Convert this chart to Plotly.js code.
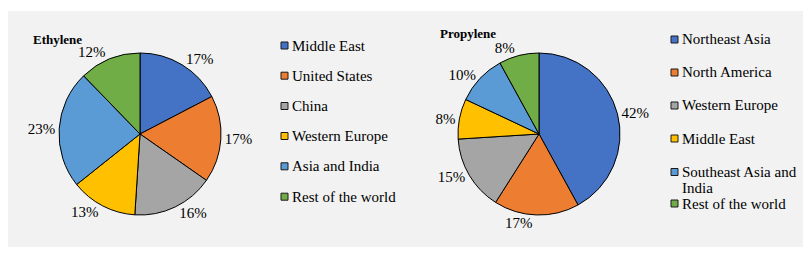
<!DOCTYPE html>
<html>
<head>
<meta charset="utf-8">
<script src="https://cdn.plot.ly/plotly-3.0.1.min.js"></script>
<style>html,body{margin:0;padding:0;background:#fff;}#chart{width:811px;height:254px;}</style>
</head>
<body>
<div id="chart"></div>
<script>
// ---- data ----
var ethyleneLabels = ["Middle East", "United States", "China", "Western Europe", "Asia and India", "Rest of the world"];
var ethyleneValues = [17, 17, 16, 13, 23, 12];
var propyleneLabels = ["Northeast Asia", "North America", "Western Europe", "Middle East", "Southeast Asia and<br>India", "Rest of the world"];
var propyleneValues = [42, 17, 15, 8, 10, 8];
var sliceColors = ["#4472C4", "#ED7D31", "#A5A5A5", "#FFC000", "#5B9BD5", "#70AD47"];

// ---- layout helpers ----
var W = 811, H = 254;
function px(x) { return x / W; }
function py(y) { return 1 - y / H; }
var FONT = "Liberation Serif, Times New Roman, serif";

function pieTrace(labels, values, cx, cy, r) {
  return {
    type: "pie",
    labels: labels,
    values: values,
    sort: false,
    direction: "clockwise",
    rotation: 0,
    textposition: "outside",
    texttemplate: "%{value}%",
    textfont: {family: FONT, size: 15, color: "#000"},
    marker: {colors: sliceColors, line: {color: "#000", width: 1}},
    domain: {x: [px(cx - r), px(cx + r)], y: [py(cy + r), py(cy - r)]},
    showlegend: false,
    hoverinfo: "label+value"
  };
}

var data = [
  pieTrace(ethyleneLabels, ethyleneValues, 140, 134, 81),
  pieTrace(propyleneLabels, propyleneValues, 539, 134, 81)
];

var shapes = [{
  type: "rect", xref: "paper", yref: "paper", layer: "below",
  x0: px(8), x1: px(803), y0: py(247), y1: py(11),
  fillcolor: "#F2F2F2", line: {width: 0}
}];
var annotations = [
  {text: "<b>Ethylene</b>", x: px(31), y: py(40), xanchor: "left", yanchor: "middle"},
  {text: "<b>Propylene</b>", x: px(438), y: py(34), xanchor: "left", yanchor: "middle"}
].map(function (a) {
  a.xref = "paper"; a.yref = "paper"; a.showarrow = false;
  a.font = {family: FONT, size: 13, color: "#000"};
  return a;
});

function addLegend(labels, sqX, txtX, rows) {
  labels.forEach(function (lab, i) {
    var y = rows[i];
    shapes.push({
      type: "rect", xref: "paper", yref: "paper",
      x0: px(sqX), x1: px(sqX + 7), y0: py(y + 3.5), y1: py(y - 3.5),
      fillcolor: sliceColors[i], line: {color: "#1a1a1a", width: 1}
    });
    lab.split("<br>").forEach(function (line, k) {
      annotations.push({
        text: line, xref: "paper", yref: "paper", showarrow: false,
        x: px(txtX), y: py(y + 16 * k), xanchor: "left", yanchor: "middle",
        align: "left",
        font: {family: FONT, size: 15, color: "#000"}
      });
    });
  });
}
addLegend(ethyleneLabels, 281, 290, [45.5, 75.7, 106, 136, 166.3, 196.7]);
addLegend(propyleneLabels, 671, 680, [39.5, 72.5, 105.5, 138.5, 172, 203.5]);

var layout = {
  width: W, height: H,
  margin: {l: 0, r: 0, t: 0, b: 0},
  paper_bgcolor: "#FFFFFF",
  showlegend: false,
  shapes: shapes,
  annotations: annotations
};
Plotly.newPlot("chart", data, layout, {displayModeBar: false, staticPlot: true});
</script>
</body>
</html>
